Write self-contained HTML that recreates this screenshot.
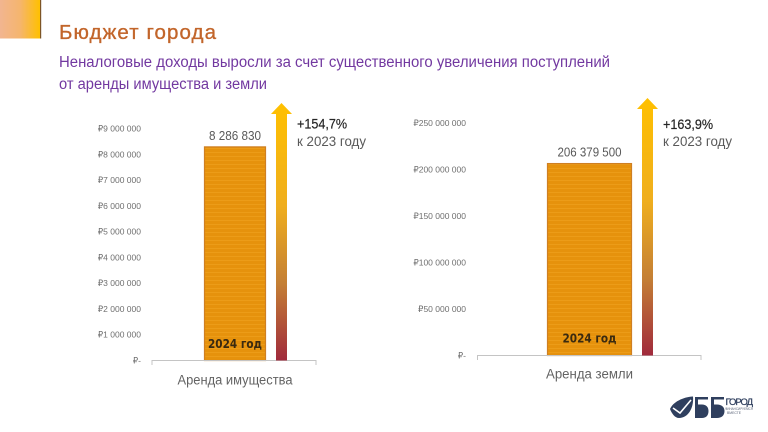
<!DOCTYPE html>
<html lang="ru">
<head>
<meta charset="utf-8">
<title>Бюджет города</title>
<style>
html,body{margin:0;padding:0;background:#fff;width:768px;height:432px;overflow:hidden}
svg{display:block;font-family:"Liberation Sans","DejaVu Sans",sans-serif;filter:blur(0.3px)}
</style>
</head>
<body>
<svg id="slide" xmlns="http://www.w3.org/2000/svg" width="768" height="432" viewBox="0 0 768 432">
  <defs>
    <linearGradient id="cornerGrad" x1="0" x2="1" y1="0" y2="0">
      <stop offset="0" stop-color="#f2b590"/>
      <stop offset="0.5" stop-color="#f5b56e"/>
      <stop offset="1" stop-color="#ffc000"/>
    </linearGradient>
    <linearGradient id="arrowGrad" gradientUnits="objectBoundingBox" x1="0" x2="0" y1="0" y2="1">
      <stop offset="0" stop-color="#ffc000"/>
      <stop offset="0.4" stop-color="#efae1e"/>
      <stop offset="0.7" stop-color="#c47f35"/>
      <stop offset="1" stop-color="#a02a3c"/>
    </linearGradient>
    <pattern id="barStripes" patternUnits="userSpaceOnUse" width="8" height="4">
      <rect width="8" height="4" fill="#e6920c"/>
      <rect y="0" width="8" height="1" fill="#ec9c18"/>
    </pattern>
  </defs>

  <rect x="0" y="0" width="40" height="38.5" fill="url(#cornerGrad)"/>
  <rect x="40" y="0" width="1.2" height="38.5" fill="#7d5526"/>

  <text x="59" y="39" font-size="20.5" fill="#c2652a" stroke="#c2652a" stroke-width="0.35" textLength="157" lengthAdjust="spacing">Бюджет города</text>
  <text x="59" y="67" font-size="15.5" fill="#7238a0" textLength="551" lengthAdjust="spacingAndGlyphs">Неналоговые доходы выросли за счет существенного увеличения поступлений</text>
  <text x="59" y="89" font-size="15.5" fill="#7238a0" textLength="208" lengthAdjust="spacingAndGlyphs">от аренды имущества и земли</text>

  <g id="chart-left"></g>
  <g id="chart-right"></g>

  <g>
    <text x="297" y="128.5" font-size="13.5" fill="#262626" stroke="#262626" stroke-width="0.2" textLength="50" lengthAdjust="spacingAndGlyphs">+154,7%</text>
    <text x="297" y="146" font-size="13.5" fill="#595959" textLength="69" lengthAdjust="spacingAndGlyphs">к 2023 году</text>
  </g>
  <g>
    <text x="663" y="129" font-size="13.5" fill="#262626" stroke="#262626" stroke-width="0.2" textLength="50" lengthAdjust="spacingAndGlyphs">+163,9%</text>
    <text x="663" y="146" font-size="13.5" fill="#595959" textLength="69" lengthAdjust="spacingAndGlyphs">к 2023 году</text>
  </g>

  <g fill="#2f3f5e">
    <path d="M670 409 C673 402 683 397 693 396.5 C694 408 688 418 679 418 C675 418 672 414 670 409 Z"/>
    <path d="M673 408 L680 413 L691 400" fill="none" stroke="#fff" stroke-width="1.6"/>
    <path d="M695 397 H708 V399.5 H698 V404.5 H702 C706 404.5 708.5 407 708.5 411 C708.5 415.5 706 418 702 418 H695 Z"/>
    <path d="M711 397 H724 V399.5 H714 V404.5 H717 C721.5 404.5 724.5 407 724.5 411 C724.5 415.5 721.5 418 717 418 H711 Z"/>
    <text x="725.5" y="405" font-size="9.5" textLength="27.5" lengthAdjust="spacing" fill="#2f3f5e" stroke="#2f3f5e" stroke-width="0.25">ГОРОД</text>
    <text x="725" y="410" font-size="4" textLength="28" lengthAdjust="spacingAndGlyphs" fill="#5a6478">ФИНАНСИРУЕМСЯ</text>
    <text x="727" y="414" font-size="4" textLength="14" lengthAdjust="spacingAndGlyphs" fill="#5a6478">ВМЕСТЕ</text>
  </g>
</svg>
<script>
// Property rent chart data
const leftCategories = ["Аренда имущества"];
const leftValues = [8286830];
const leftValueLabels = ["8 286 830"];
const leftTicks = [0, 1000000, 2000000, 3000000, 4000000, 5000000, 6000000, 7000000, 8000000, 9000000];
const leftTickLabels = ["₽-", "₽1 000 000", "₽2 000 000", "₽3 000 000", "₽4 000 000", "₽5 000 000", "₽6 000 000", "₽7 000 000", "₽8 000 000", "₽9 000 000"];

// Land rent chart data
const rightCategories = ["Аренда земли"];
const rightValues = [206379500];
const rightValueLabels = ["206 379 500"];
const rightTicks = [0, 50000000, 100000000, 150000000, 200000000, 250000000];
const rightTickLabels = ["₽-", "₽50 000 000", "₽100 000 000", "₽150 000 000", "₽200 000 000", "₽250 000 000"];

const SVG_NS = "http://www.w3.org/2000/svg";

function mk(tag, attrs, parent, text) {
  const el = document.createElementNS(SVG_NS, tag);
  for (const k in attrs) el.setAttribute(k, attrs[k]);
  if (text !== undefined) el.textContent = text;
  parent.appendChild(el);
  return el;
}

function drawChart(root, cfg) {
  const y = function (v) { return cfg.y0 - (v / cfg.max) * (cfg.y0 - cfg.yTop); };

  // Tick labels
  cfg.ticks.forEach(function (t, i) {
    const label = mk("text", {
      x: cfg.labelX, y: y(t) + 3, "text-anchor": "end",
      "font-size": 8.5, fill: "#6f6f6f"
    }, root, cfg.tickLabels[i]);
    
    
  });

  // Bars
  cfg.values.forEach(function (v, i) {
    const top = y(v);
    const bar = mk("rect", {
      x: cfg.barX + 0.5, y: top, width: cfg.barW - 1, height: cfg.y0 - top,
      fill: "url(#barStripes)", stroke: "#cf7f22", "stroke-width": 1.2
    }, root);
    
    

    const val = mk("text", {
      x: cfg.barX + cfg.barW / 2, y: top - 7, "text-anchor": "middle",
      "font-size": 12.5, fill: "#595959", textLength: cfg.valueW, lengthAdjust: "spacingAndGlyphs"
    }, root, cfg.valueLabels[i]);
    
    

    const year = mk("text", {
      x: cfg.barX + cfg.barW / 2, y: cfg.y0 - 12.5 - cfg.yearLift, "text-anchor": "middle",
      "font-size": 12.5, "font-weight": "bold", fill: "#3a2a10",
      "font-family": "'DejaVu Sans',sans-serif", textLength: 54, lengthAdjust: "spacingAndGlyphs"
    }, root, "2024 год");
    
    

    const cat = mk("text", {
      x: cfg.barX + cfg.barW / 2 + cfg.catShift, y: cfg.y0 + cfg.catDy, "text-anchor": "middle",
      "font-size": 13.5, fill: "#636363", textLength: cfg.catW, lengthAdjust: "spacingAndGlyphs"
    }, root, cfg.categories[i]);
    
    
  });

  // Axis line with end ticks
  const axis = mk("path", {
    d: "M" + cfg.axisL + " " + (cfg.y0 + 4.5) + " V" + cfg.y0 + " H" + cfg.axisR + " V" + (cfg.y0 + 4.5),
    fill: "none", stroke: "#c4c4c4", "stroke-width": 1
  }, root);
  
  

  // Growth arrow
  const ax = cfg.arrowX;
  const arrow = mk("path", {
    d: "M" + ax + " " + cfg.arrowTop + " L" + (ax + 10.5) + " " + (cfg.arrowTop + 11) + " H" + (ax + 5.5) +
       " V" + cfg.y0 + " H" + (ax - 5.5) + " V" + (cfg.arrowTop + 11) + " H" + (ax - 10.5) + " Z",
    fill: "url(#arrowGrad)"
  }, root);
  
  
}

drawChart(document.getElementById("chart-left"), {
  categories: leftCategories, values: leftValues, valueLabels: leftValueLabels,
  ticks: leftTicks, tickLabels: leftTickLabels,
  max: 9000000, y0: 360.5, yTop: 128.5, labelX: 141,
  barX: 204, barW: 62, valueW: 52, catW: 115, catShift: 0, catDy: 24, yearLift: 0,
  axisL: 152, axisR: 316, arrowX: 281.5, arrowTop: 103
});

drawChart(document.getElementById("chart-right"), {
  categories: rightCategories, values: rightValues, valueLabels: rightValueLabels,
  ticks: rightTicks, tickLabels: rightTickLabels,
  max: 250000000, y0: 355.5, yTop: 123, labelX: 466,
  barX: 547, barW: 85, valueW: 64, catW: 87, catShift: 0, catDy: 23, yearLift: 0.5,
  axisL: 477.5, axisR: 701, arrowX: 647.5, arrowTop: 98
});
</script>
</body>
</html>
